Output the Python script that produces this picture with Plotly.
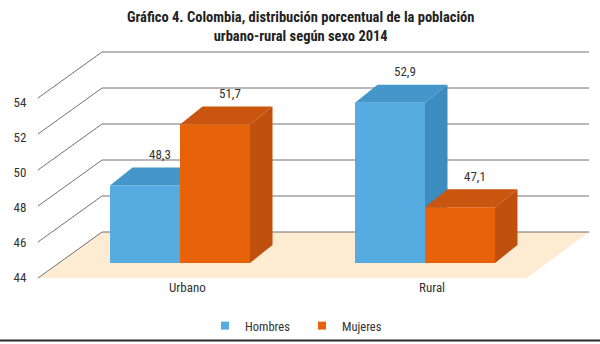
import plotly.graph_objects as go

# ---------------- data ----------------
categories = ["Urbano", "Rural"]
series_names = ["Hombres", "Mujeres"]
hombres = [48.3, 52.9]
mujeres = [51.7, 47.1]
tick_values = [44, 46, 48, 50, 52, 54]
title_text = "Gráfico 4. Colombia, distribución porcentual de la población<br>urbano-rural según sexo 2014"

# ---------------- style / geometry ----------------
FONT = "Roboto Condensed, Roboto, sans-serif"
TXT = "#333333"
W, H = 600, 344
ML = 38                      # left margin (px)
PX_PER_UNIT = 18.0
BASE = 44.0                  # axis minimum
BASE_PX = 263                # pixel row of BASE on the bar plane
Y_RANGE = [BASE - (H - BASE_PX) / PX_PER_UNIT, BASE + BASE_PX / PX_PER_UNIT]
X_RANGE = [ML, W]

# value-label axis (front edge of the side wall)
LABEL_PX_PER_UNIT = 17.5
LABEL_BASE_PX = 277
Y2_RANGE = [BASE - (H - LABEL_BASE_PX) / LABEL_PX_PER_UNIT, BASE + LABEL_BASE_PX / LABEL_PX_PER_UNIT]

FRONT_OFF = -15 / PX_PER_UNIT    # front edge of floor relative to bar plane
BACK_OFF = 31 / PX_PER_UNIT      # back wall relative to bar plane
WALL_X_FRONT, WALL_X_BACK, WALL_X_END = 38, 102, 589
FLOOR_X_FRONT_END = 527

BAR_W = 70
DEPTH_DX = 22.5
DEPTH_DY = 18 / PX_PER_UNIT
GROUP_START, GROUP_STEP = 180, 245
centers = [GROUP_START + i * GROUP_STEP for i in range(len(categories))]

colors = {
    "Hombres": ("#56ACE0", "#4496CB", "#3D8CC0"),
    "Mujeres": ("#E8620A", "#C9550F", "#C0500E"),
}

fig = go.Figure()


def add_series(name, values, side, xa, ya):
    front, top, sidec = colors[name]
    xs = [c + side * BAR_W / 2 for c in centers]
    fig.add_trace(go.Bar(
        x=xs, y=[v - BASE for v in values], base=BASE, width=BAR_W,
        marker=dict(color=front, line=dict(width=0)),
        name=name, showlegend=False, xaxis=xa, yaxis=ya, hoverinfo="skip"))
    tx, ty, sx, sy = [], [], [], []
    for xc, v in zip(xs, values):
        x0, x1 = xc - BAR_W / 2, xc + BAR_W / 2
        tx += [x0, x1, x1 + DEPTH_DX, x0 + DEPTH_DX, x0, None]
        ty += [v, v, v + DEPTH_DY, v + DEPTH_DY, v, None]
        sx += [x1, x1, x1 + DEPTH_DX, x1 + DEPTH_DX, x1, None]
        sy += [BASE, v, v + DEPTH_DY, BASE + DEPTH_DY, BASE, None]
    fig.add_trace(go.Scatter(x=sx, y=sy, fill="toself", fillcolor=sidec, mode="lines",
                             line=dict(width=0, color=sidec), showlegend=False,
                             xaxis=xa, yaxis=ya, hoverinfo="skip"))
    fig.add_trace(go.Scatter(x=tx, y=ty, fill="toself", fillcolor=top, mode="lines",
                             line=dict(width=0, color=top), showlegend=False,
                             xaxis=xa, yaxis=ya, hoverinfo="skip"))
    for xc, v in zip(xs, values):
        fig.add_annotation(x=xc + 15, y=v + DEPTH_DY + 13 / PX_PER_UNIT,
                           xref="x", yref="y",
                           text=f"{v:.1f}".replace(".", ","), showarrow=False,
                           font=dict(family=FONT, size=13, color=TXT))


add_series("Hombres", hombres, -1, "x", "y")
add_series("Mujeres", mujeres, +1, "x2", "y3")

# legend proxies (also create the x/y2 subplot that carries the value ticks)
for nm in series_names:
    fig.add_trace(go.Scatter(x=[None], y=[None], mode="markers", name=nm,
                             xaxis="x", yaxis="y2",
                             marker=dict(symbol="square", size=8, color=colors[nm][0])))

# floor
fy0, fy1 = BASE + FRONT_OFF, BASE + BACK_OFF
fig.add_shape(type="path", xref="x", yref="y", layer="below",
              path=f"M{WALL_X_FRONT},{fy0} L{FLOOR_X_FRONT_END},{fy0} L{WALL_X_END},{fy1} L{WALL_X_BACK},{fy1} Z",
              fillcolor="#FDEBD2", line=dict(width=0))
# grid lines (side wall diagonal + back wall)
for t in tick_values:
    fig.add_shape(type="path", xref="x", yref="y", layer="below",
                  path=f"M{WALL_X_FRONT},{t + FRONT_OFF} L{WALL_X_BACK},{t + BACK_OFF} L{WALL_X_END},{t + BACK_OFF}",
                  line=dict(color="#707070", width=1))

# category labels
for c, lab in zip(centers, categories):
    fig.add_annotation(x=c + 7, y=BASE - 24 / PX_PER_UNIT, xref="x", yref="y",
                       text=lab, showarrow=False,
                       font=dict(family=FONT, size=13, color=TXT))

# title
fig.add_annotation(x=(300 - ML) / (W - ML), y=1 - 7 / H, xref="paper", yref="paper",
                   xanchor="center", yanchor="top", showarrow=False, align="center",
                   text=f"<b>{title_text}</b>",
                   font=dict(family=FONT, size=14.5, color="#222222"))

# bottom rule
fig.add_shape(type="line", xref="paper", yref="paper",
              x0=-ML / (W - ML), x1=1, y0=1 - 340.5 / H, y1=1 - 340.5 / H,
              line=dict(color="#2a2a2a", width=2))

fig.update_layout(
    width=W, height=H,
    margin=dict(l=ML, r=0, t=0, b=0),
    paper_bgcolor="white", plot_bgcolor="rgba(0,0,0,0)",
    barmode="overlay",
    xaxis=dict(range=X_RANGE, visible=False, fixedrange=True),
    yaxis=dict(range=Y_RANGE, visible=False, fixedrange=True),
    xaxis2=dict(range=X_RANGE, visible=False, overlaying="x", anchor="y3"),
    yaxis3=dict(range=Y_RANGE, visible=False, overlaying="y", anchor="x2"),
    yaxis2=dict(range=Y2_RANGE, overlaying="y",
                anchor="x", side="left", tickvals=tick_values,
                ticktext=[str(t) for t in tick_values],
                ticks="outside", ticklen=8, tickcolor="rgba(0,0,0,0)",
                showgrid=False, zeroline=False, showline=False,
                tickfont=dict(family=FONT, size=13, color=TXT)),
    showlegend=True,
    legend=dict(orientation="h", x=(205 - ML) / (W - ML), xanchor="left",
                y=1 - 326 / H, yanchor="middle", bgcolor="rgba(0,0,0,0)",
                font=dict(family=FONT, size=12.5, color=TXT),
                entrywidth=52, entrywidthmode="pixels"),
)

fig.write_html("out.html")
